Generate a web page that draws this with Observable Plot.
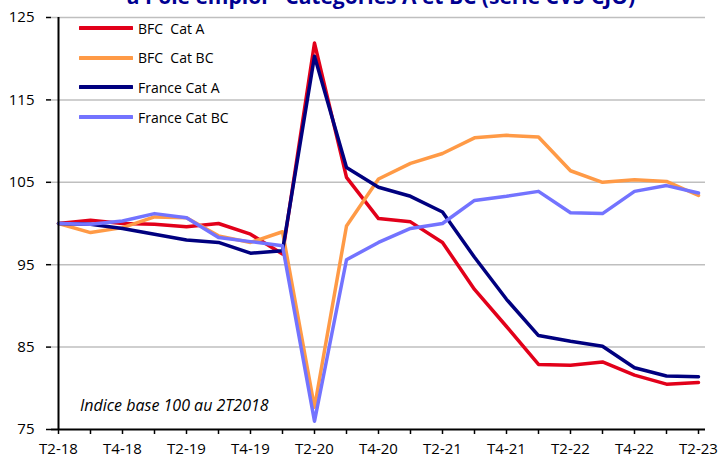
<!DOCTYPE html>
<html>
<head>
<meta charset="utf-8">
<script src="https://cdn.jsdelivr.net/npm/d3@7"></script>
<script src="https://cdn.jsdelivr.net/npm/@observablehq/plot@0.6"></script>
<style>
  body { margin: 0; background: #fff; font-family: "Open Sans", sans-serif; }
  #wrap { position: relative; width: 723px; height: 460px; overflow: hidden; }
  #title { position: absolute; left: 0; width: 762px; top: -14px; text-align: center; font-weight: bold; font-size: 21px; line-height: 20px; color: #000091; white-space: nowrap; }
  #legend { position: absolute; left: 79px; top: 18px; font-size: 14px; color: #000; }
  .row { position: absolute; left: 0; height: 20px; white-space: nowrap; display: flex; align-items: center; }
  .row svg { margin-right: 5px; }
  #note { position: absolute; left: 80px; top: 394px; font-style: italic; font-size: 16px; color: #000; white-space: nowrap; }
</style>
</head>
<body>
<div id="wrap">
  <div id="chart"></div>
  <div id="title">à Pôle emploi - Catégories A et BC (série CVS-CJO)</div>
  <div id="legend"></div>
  <div id="note">Indice base 100 au 2T2018</div>
</div>
<script>
const quarters = ["T2-18","T3-18","T4-18","T1-19","T2-19","T3-19","T4-19","T1-20","T2-20","T3-20","T4-20","T1-21","T2-21","T3-21","T4-21","T1-22","T2-22","T3-22","T4-22","T1-23","T2-23"];
const tickLabels = ["T2-18","T4-18","T2-19","T4-19","T2-20","T4-20","T2-21","T4-21","T2-22","T4-22","T2-23"];
const yTicks = [75, 85, 95, 105, 115, 125];

const seriesNames = ["BFC  Cat A", "BFC  Cat BC", "France Cat A", "France Cat BC"];
const seriesColors = ["#e2001a", "#ff9a46", "#00007f", "#7373ff"];

const bfcA   = [100, 100.4, 100.0, 99.9, 99.6, 100.0, 98.7, 96.3, 121.9, 105.6, 100.6, 100.2, 97.7, 92.0, 87.5, 82.9, 82.8, 83.2, 81.6, 80.5, 80.7];
const bfcBC  = [100, 98.9, 99.5, 100.8, 100.7, 98.5, 97.7, 99.0, 77.7, 99.7, 105.4, 107.3, 108.5, 110.4, 110.7, 110.5, 106.4, 105.0, 105.3, 105.1, 103.4];
const frA    = [100, 99.9, 99.4, 98.7, 98.0, 97.7, 96.4, 96.7, 120.3, 106.8, 104.4, 103.3, 101.4, 95.9, 90.8, 86.4, 85.7, 85.1, 82.5, 81.5, 81.4];
const frBC   = [100, 99.9, 100.3, 101.2, 100.7, 98.3, 97.8, 97.3, 76.0, 95.6, 97.7, 99.4, 100.0, 102.8, 103.3, 103.9, 101.3, 101.2, 103.9, 104.6, 103.7];

const allSeries = [bfcA, bfcBC, frA, frBC];
const rows = [];
allSeries.forEach((vals, s) => vals.forEach((v, i) => rows.push({q: quarters[i], v, s: seriesNames[s]})));

const chart = Plot.plot({
  width: 723,
  height: 460,
  marginLeft: 51,
  marginRight: 18,
  marginTop: 17,
  marginBottom: 31,
  style: { fontFamily: "Open Sans, sans-serif", fontSize: "15px", color: "#000", background: "#fff" },
  x: { type: "point", domain: quarters, padding: 0 },
  y: { domain: [75, 125] },
  color: { domain: seriesNames, range: seriesColors },
  marks: [
    Plot.ruleY(yTicks.slice(1), { stroke: "#bfbfbf", strokeWidth: 1.5 }),
    Plot.axisY({ ticks: yTicks, tickSize: 5, tickPadding: 12, stroke: "#000", strokeWidth: 1.5, label: null, fill: "#000" }),
    Plot.axisX({ ticks: quarters, tickFormat: d => tickLabels.includes(d) ? d : "", tickSize: 5, tickPadding: 9, stroke: "#000", strokeWidth: 1.5, label: null, fill: "#000" }),
    Plot.line(rows, { x: "q", y: "v", z: "s", stroke: "s", strokeWidth: 3.5 }),
    Plot.ruleX([quarters[0]], { stroke: "#000", strokeWidth: 2 }),
    Plot.ruleY([75], { stroke: "#000", strokeWidth: 2 })
  ]
});
document.getElementById("chart").appendChild(chart);

const legend = document.getElementById("legend");
seriesNames.forEach((name, i) => {
  const row = document.createElement("div");
  row.className = "row";
  row.style.top = (i * 29.7) + "px";
  row.innerHTML = `<svg width="54" height="6"><line x1="1" y1="3" x2="53" y2="3" stroke="${seriesColors[i]}" stroke-width="4" stroke-linecap="round"/></svg><span style="white-space:pre">${name}</span>`;
  legend.appendChild(row);
});
</script>
</body>
</html>
